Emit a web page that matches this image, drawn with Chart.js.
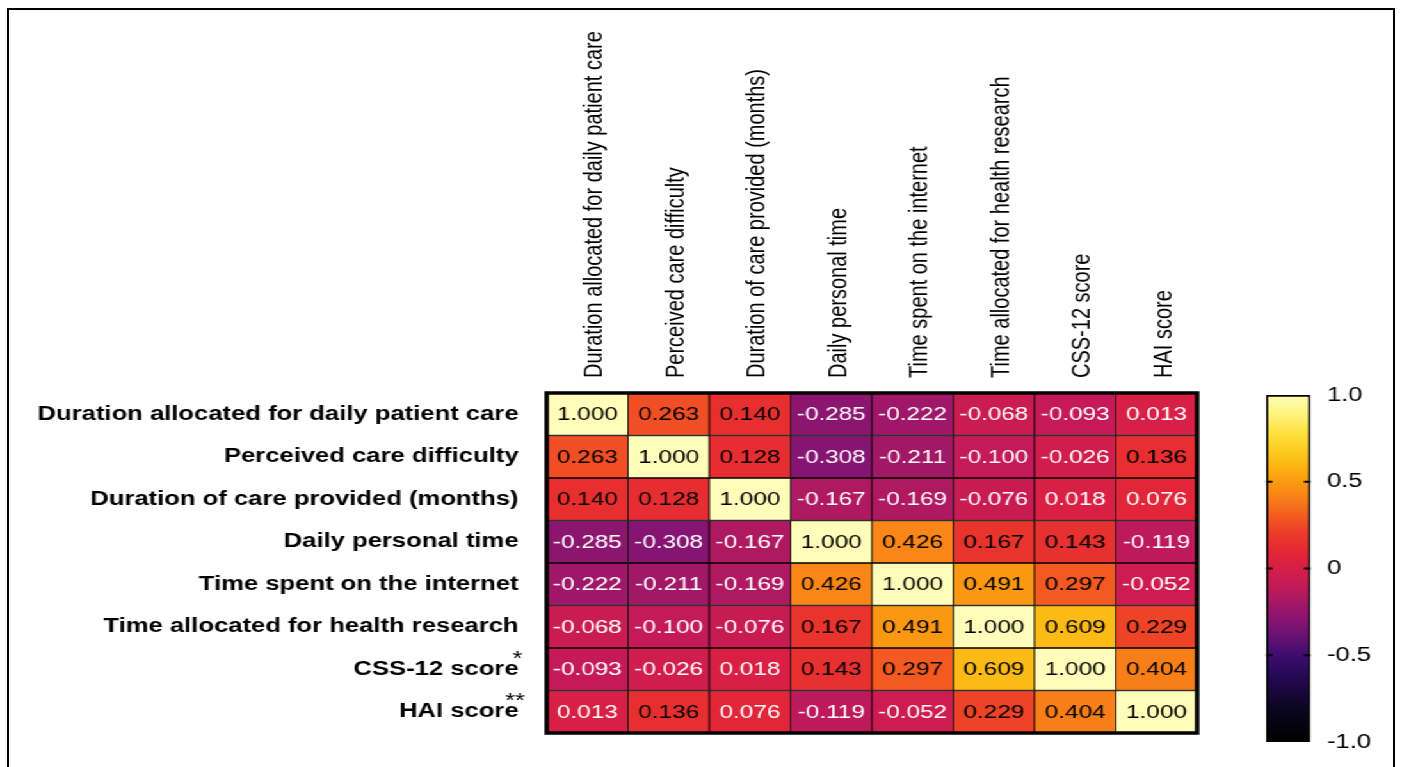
<!DOCTYPE html>
<html>
<head>
<meta charset="utf-8">
<script src="https://cdn.jsdelivr.net/npm/chart.js@4.4.1/dist/chart.umd.min.js"></script>
<style>
  html, body { margin: 0; padding: 0; background: #fff; overflow: hidden; width: 1402px; height: 767px; }
  #frame { position: absolute; left: 7px; top: 8px; width: 1384px; height: 800px; border: 2px solid #000; }
  #stage { position: absolute; left: 0; top: 0; width: 1095px; height: 767px; transform-origin: 0 0; transform: scaleX(1.28037); }
  #heatBox { position: absolute; left: 0; top: 0; width: 1095px; height: 767px; }
  #scaleBox { position: absolute; left: 960px; top: 0; width: 135px; height: 767px; }
</style>
</head>
<body>
<div id="frame"></div>
<div id="stage">
  <div id="heatBox"><canvas id="heat"></canvas></div>
  <div id="scaleBox"><canvas id="colorScale"></canvas></div>
</div>
<script>
// Variables of the correlation matrix (same order for rows and columns)
const variables = [
  'Duration allocated for daily patient care',
  'Perceived care difficulty',
  'Duration of care provided (months)',
  'Daily personal time',
  'Time spent on the internet',
  'Time allocated for health research',
  'CSS-12 score',
  'HAI score'
];

// Correlation coefficients, one array per row
const rDailyCare      = [1.000, 0.263, 0.140, -0.285, -0.222, -0.068, -0.093, 0.013];
const rDifficulty     = [0.263, 1.000, 0.128, -0.308, -0.211, -0.100, -0.026, 0.136];
const rCareMonths     = [0.140, 0.128, 1.000, -0.167, -0.169, -0.076, 0.018, 0.076];
const rPersonalTime   = [-0.285, -0.308, -0.167, 1.000, 0.426, 0.167, 0.143, -0.119];
const rInternet       = [-0.222, -0.211, -0.169, 0.426, 1.000, 0.491, 0.297, -0.052];
const rHealthResearch = [-0.068, -0.100, -0.076, 0.167, 0.491, 1.000, 0.609, 0.229];
const rCss12          = [-0.093, -0.026, 0.018, 0.143, 0.297, 0.609, 1.000, 0.404];
const rHai            = [0.013, 0.136, 0.076, -0.119, -0.052, 0.229, 0.404, 1.000];

// Colour-bar tick values
const scaleTicks = [1.0, 0.5, 0, -0.5, -1.0];

const matrix = [rDailyCare, rDifficulty, rCareMonths, rPersonalTime, rInternet, rHealthResearch, rCss12, rHai];

// Inferno-style colour map from -1 to 1
const mapStops = [
  [-1.0, [0, 0, 0]],
  [-0.8, [12, 6, 35]],
  [-0.6, [40, 10, 90]],
  [-0.5, [62, 13, 110]],
  [-0.4, [100, 18, 115]],
  [-0.3, [136, 20, 114]],
  [-0.2, [164, 24, 102]],
  [-0.1, [196, 26, 88]],
  [0.0, [214, 30, 72]],
  [0.1, [228, 40, 52]],
  [0.2, [236, 58, 42]],
  [0.3, [243, 90, 32]],
  [0.4, [248, 126, 24]],
  [0.5, [250, 155, 16]],
  [0.6, [252, 184, 19]],
  [0.75, [253, 220, 50]],
  [0.9, [255, 245, 130]],
  [1.0, [255, 253, 185]]
];

function colourFor(v) {
  for (let i = 1; i < mapStops.length; i++) {
    const [v1, c1] = mapStops[i];
    const [v0, c0] = mapStops[i - 1];
    if (v <= v1) {
      const t = (v - v0) / (v1 - v0);
      const c = c0.map((ch, k) => Math.round(ch + (c1[k] - ch) * t));
      return `rgb(${c[0]},${c[1]},${c[2]})`;
    }
  }
  const c = mapStops[mapStops.length - 1][1];
  return `rgb(${c[0]},${c[1]},${c[2]})`;
}

const FONT = "'Liberation Sans', Arial, Helvetica, sans-serif";
Chart.defaults.font.family = FONT;
Chart.defaults.color = '#000';

// One floating-bar dataset per row; each bar spans [row, row + 1]
const datasets = matrix.map((row, r) => ({
  label: variables[r],
  data: row.map(() => [r, r + 1]),
  values: row,
  backgroundColor: row.map(colourFor),
  borderColor: '#000',
  borderWidth: { top: 1, bottom: 1, left: 0.8, right: 0.8 },
  borderSkipped: false,
  barPercentage: 1,
  categoryPercentage: 1,
  grouped: false
}));

// Writes each coefficient in the middle of its cell
const cellText = {
  id: 'cellText',
  afterDatasetsDraw(chart) {
    const ctx = chart.ctx;
    ctx.save();
    ctx.font = `19px ${FONT}`;
    ctx.textAlign = 'center';
    ctx.textBaseline = 'middle';
    chart.data.datasets.forEach((ds, di) => {
      const meta = chart.getDatasetMeta(di);
      meta.data.forEach((el, i) => {
        const v = ds.values[i];
        const p = el.getProps(['x', 'y', 'base'], true);
        ctx.fillStyle = v < 0.1 ? '#fff' : '#000';
        ctx.fillText(v.toFixed(3), p.x, (p.y + p.base) / 2 + 1);
      });
    });
    // heavy outline around the matrix
    const a = chart.chartArea;
    ctx.strokeStyle = '#000';
    ctx.lineWidth = 3.5;
    ctx.strokeRect(a.left, a.top, a.right - a.left, a.bottom - a.top);
    // significance marks next to the CSS-12 label
    const y = chart.scales.y;
    ctx.font = `20px ${FONT}`;
    ctx.textAlign = 'right';
    ctx.textBaseline = 'alphabetic';
    ctx.fillStyle = '#000';
    ctx.fillText('*', y.right - 19, y.getPixelForValue(6) + 17);
    ctx.fillText('**', y.right - 17, y.getPixelForValue(7) + 16);
    ctx.restore();
  }
};

new Chart(document.getElementById('heat'), {
  type: 'bar',
  data: { labels: variables, datasets },
  options: {
    responsive: true,
    maintainAspectRatio: false,
    animation: false,
    layout: { padding: { left: 0, right: 160, top: 0, bottom: 26 } },
    plugins: { legend: { display: false }, tooltip: { enabled: false } },
    scales: {
      x: {
        type: 'category',
        position: 'top',
        offset: true,
        grid: { display: false, drawTicks: false },
        border: { display: false },
        ticks: {
          autoSkip: false,
          maxRotation: 90,
          minRotation: 90,
          padding: 15,
          labelOffset: 30,
          font: { size: 20 },
          color: '#000'
        },
        afterFit(scale) { scale.height = 393; }
      },
      y: {
        type: 'linear',
        min: 0,
        max: 8,
        reverse: true,
        grid: { display: false, drawTicks: false },
        border: { display: false },
        afterBuildTicks(scale) {
          scale.ticks = variables.map((_, i) => ({ value: i + 0.5 }));
        },
        ticks: {
          autoSkip: false,
          padding: 22,
          font: { size: 20, weight: 'bold' },
          color: '#000',
          callback: (v, i) => variables[i]
        },
        afterFit(scale) { scale.width = 427; }
      }
    }
  },
  plugins: [cellText]
});

// Colour bar: a single floating bar from -1 to 1 filled with the colour map
const scaleMarks = {
  id: 'scaleMarks',
  afterDatasetsDraw(chart) {
    const ctx = chart.ctx;
    const y = chart.scales.y;
    const a = chart.chartArea;
    ctx.save();
    ctx.strokeStyle = '#000';
    ctx.lineWidth = 2;
    scaleTicks.filter(v => Math.abs(v) < 1).forEach(v => {
      const py = y.getPixelForValue(v);
      ctx.beginPath();
      ctx.moveTo(a.left, py); ctx.lineTo(a.left + 5, py);
      ctx.moveTo(a.right - 5, py); ctx.lineTo(a.right, py);
      ctx.stroke();
    });
    ctx.restore();
  }
};

new Chart(document.getElementById('colorScale'), {
  type: 'bar',
  data: {
    labels: ['r'],
    datasets: [{
      data: [[-1, 1]],
      backgroundColor(c) {
        const chart = c.chart;
        if (!chart.chartArea) return '#000';
        const y = chart.scales.y;
        const y0 = y.getPixelForValue(-1), y1 = y.getPixelForValue(1);
        const g = chart.ctx.createLinearGradient(0, y0, 0, y1);
        mapStops.forEach(([v, col]) => g.addColorStop((v + 1) / 2, `rgb(${col[0]},${col[1]},${col[2]})`));
        return g;
      },
      borderColor: '#000',
      borderWidth: 2,
      borderSkipped: false,
      barPercentage: 1,
      categoryPercentage: 1
    }]
  },
  options: {
    responsive: true,
    maintainAspectRatio: false,
    animation: false,
    layout: { padding: { left: 28.8, right: 0, top: 395, bottom: 24 } },
    plugins: { legend: { display: false }, tooltip: { enabled: false } },
    scales: {
      x: { display: false },
      y: {
        type: 'linear',
        position: 'right',
        min: -1,
        max: 1,
        grid: { display: false, drawTicks: false },
        border: { display: false },
        afterBuildTicks(scale) {
          scale.ticks = scaleTicks.map(v => ({ value: v }));
        },
        ticks: {
          padding: 13,
          font: { size: 20 },
          color: '#000',
          callback: v => (v === 0 ? '0' : v.toFixed(1))
        },
        afterFit(scale) { scale.width = 71.6; }
      }
    }
  },
  plugins: [scaleMarks]
});
</script>
</body>
</html>
